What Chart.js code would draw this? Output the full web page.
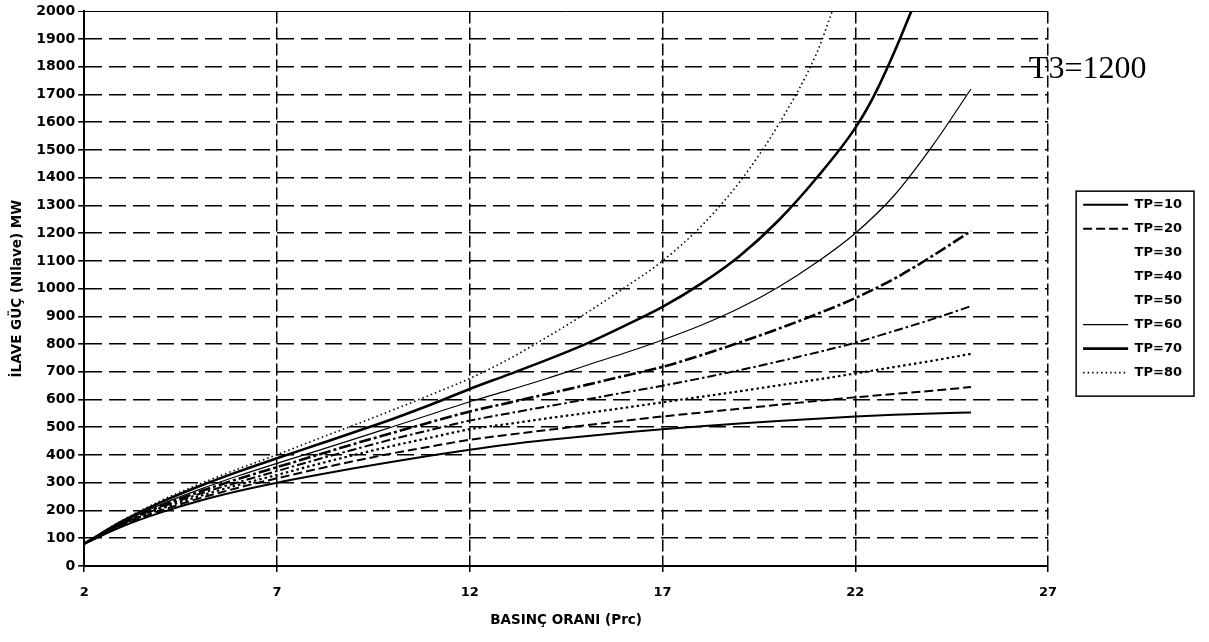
<!DOCTYPE html>
<html>
<head>
<meta charset="utf-8">
<title>İlave güç - basınç oranı</title>
<script src="https://cdn.jsdelivr.net/npm/chart.js@4.4.1/dist/chart.umd.min.js"></script>
<style>
  html, body { margin: 0; padding: 0; background: #fff; }
  #wrap { width: 1209px; height: 642px; }
</style>
</head>
<body>
<div id="wrap"><canvas id="chartIlaveGuc"></canvas></div>
<script>
// basınç oranı (Prc) values the curves are sampled at
var prc = [2, 3, 4, 5, 6, 7, 8, 9, 10, 11, 12, 13, 14, 15, 16, 17, 18, 19, 20, 21, 22, 23, 24, 25];
// TP=70 and TP=80 leave the top of the axis before Prc=25
var prc70 = [2, 3, 4, 5, 6, 7, 8, 9, 10, 11, 12, 13, 14, 15, 16, 17, 18, 19, 20, 21, 22, 22.5, 23, 23.45];
var prc80 = [2, 3, 4, 5, 6, 7, 8, 9, 10, 11, 12, 13, 14, 15, 16, 17, 18, 19, 20, 21, 21.4];

// ilave güç (MW)
var tp10 = [80, 143, 193, 235, 270, 300, 327, 352, 376, 398, 419, 438, 454, 468, 481, 493, 504, 514, 523, 531, 539, 545, 550, 553];
var tp20 = [80, 147, 200, 244, 282, 316, 348, 378, 406, 431, 455, 473, 490, 507, 523, 539, 553, 567, 581, 595, 608, 620, 632, 645];
var tp30 = [80, 150, 206, 252, 292, 328, 365, 400, 433, 463, 493, 512, 532, 551, 570, 590, 610, 630, 651, 672, 694, 717, 740, 765];
var tp40 = [80, 152, 211, 260, 302, 342, 382, 420, 457, 491, 524, 550, 575, 600, 625, 650, 677, 706, 737, 770, 805, 847, 890, 937];
var tp50 = [80, 155, 216, 268, 314, 356, 398, 440, 480, 519, 557, 588, 620, 652, 685, 718, 760, 806, 855, 908, 966, 1035, 1118, 1208];
var tp60 = [80, 158, 222, 276, 325, 370, 413, 457, 502, 547, 592, 633, 676, 722, 767, 815, 868, 930, 1005, 1095, 1200, 1335, 1515, 1720];
var tp70 = [80, 162, 230, 288, 340, 388, 435, 482, 530, 582, 638, 690, 743, 800, 865, 934, 1018, 1118, 1245, 1400, 1580, 1700, 1850, 2000];
var tp80 = [80, 165, 236, 296, 350, 401, 455, 508, 562, 618, 676, 745, 825, 910, 1002, 1100, 1225, 1385, 1590, 1850, 2000];

var xTicksMin = 2;
var xTicksMax = 27;
var xTicksStep = 5;
var yTicksMax = 2000;
var yTicksStep = 100;

function points(xs, ys) {
    return ys.map(function (y, i) { return { x: xs[i], y: y }; });
}

function curve(label, xs, ys, width, dash, showKey) {
    return {
        label: label,
        data: points(xs, ys),
        borderColor: '#000',
        backgroundColor: '#000',
        borderWidth: width,
        borderDash: dash,
        showKey: showKey,
        pointRadius: 0,
        fill: false,
        cubicInterpolationMode: 'monotone'
    };
}

// TP=30..50 keys are printed without a sample line
var datasets = [
    curve('TP=10', prc, tp10, 2, [], true),
    curve('TP=20', prc, tp20, 2, [9, 4], true),
    curve('TP=30', prc, tp30, 2.2, [2.5, 3], false),
    curve('TP=40', prc, tp40, 2, [9, 3, 2.5, 3], false),
    curve('TP=50', prc, tp50, 2.6, [12, 3, 3, 3], false),
    curve('TP=60', prc, tp60, 1.2, [], true),
    curve('TP=70', prc70, tp70, 2.6, [], true),
    curve('TP=80', prc80, tp80, 1.6, [1.5, 3], true)
];

var t3Label = {
    id: 't3Label',
    afterDatasetsDraw: function (chart) {
        var ctx = chart.ctx;
        var x = chart.scales.x.getPixelForValue(26.5);
        var y = chart.scales.y.getPixelForValue(1790);
        ctx.save();
        ctx.font = '32px "Liberation Serif"';
        ctx.fillStyle = '#000';
        ctx.textBaseline = 'middle';
        ctx.textAlign = 'left';
        ctx.fillText('T3=1200', x, y);
        ctx.restore();
    }
};

var legendFrame = {
    id: 'legendFrame',
    afterDraw: function (chart) {
        var lg = chart.legend;
        var boxes = lg.legendHitBoxes;
        if (!boxes || !boxes.length) return;
        var last = boxes[boxes.length - 1];
        var top = boxes[0].top - 7;
        var bottom = last.top + last.height + 17;
        var ctx = chart.ctx;
        ctx.save();
        ctx.strokeStyle = '#000';
        ctx.lineWidth = 1.5;
        ctx.strokeRect(lg.left + 4, top, lg.right - lg.left - 2, bottom - top);
        ctx.restore();
    }
};

var tickFont = { family: 'DejaVu Sans', weight: 'bold', size: 13 };
var titleFont = { family: 'DejaVu Sans', weight: 'bold', size: 13.5 };

var chartIlaveGuc = new Chart(document.getElementById('chartIlaveGuc'), {
    type: 'line',
    data: { datasets: datasets },
    options: {
        responsive: true,
        maintainAspectRatio: false,
        animation: false,
        layout: { padding: { top: 2, right: 17, bottom: 9, left: 8 } },
        scales: {
            x: {
                type: 'linear',
                min: xTicksMin,
                max: xTicksMax,
                ticks: { stepSize: xTicksStep, color: '#000', font: tickFont, padding: 13, maxRotation: 0 },
                grid: { color: '#000', lineWidth: 1.5, tickLength: 6 },
                border: { display: true, color: '#000', width: 2, dash: [12, 4] },
                title: {
                    display: true,
                    text: 'BASINÇ ORANI (Prc)',
                    color: '#000',
                    font: { family: 'DejaVu Sans', weight: 'bold', size: 13.5, lineHeight: 1 },
                    padding: { top: 0, bottom: 6 }
                }
            },
            y: {
                min: 0,
                max: yTicksMax,
                ticks: {
                    stepSize: yTicksStep,
                    color: '#000',
                    font: { family: 'DejaVu Sans', weight: 'bold', size: 14 },
                    padding: 3,
                    callback: function (v) { return String(v); }
                },
                grid: {
                    color: '#000',
                    tickLength: 6,
                    lineWidth: function (c) { return c.tick && c.tick.value === yTicksMax ? 1 : 1.6; }
                },
                border: {
                    display: true,
                    color: '#000',
                    width: 2,
                    dash: function (c) { return c.tick && c.tick.value === yTicksMax ? [] : [17, 7]; }
                },
                title: {
                    display: true,
                    text: 'İLAVE GÜÇ (NIlave) MW',
                    color: '#000',
                    font: titleFont,
                    padding: { top: 1, bottom: 8 }
                }
            },
            // empty strip between the plot and the key
            gap: {
                type: 'linear',
                position: 'right',
                display: true,
                grid: { display: false, drawTicks: false },
                border: { display: false },
                ticks: { display: false },
                afterFit: function (scale) { scale.width = 24; }
            }
        },
        plugins: {
            legend: {
                position: 'right',
                fullSize: false,
                labels: {
                    usePointStyle: true,
                    pointStyleWidth: 45,
                    padding: 11,
                    color: '#000',
                    font: { family: 'DejaVu Sans', weight: 'bold', size: 13 },
                    generateLabels: function (chart) {
                        return chart.data.datasets.map(function (ds, i) {
                            return {
                                text: ds.label,
                                datasetIndex: i,
                                pointStyle: 'line',
                                fillStyle: '#000',
                                strokeStyle: ds.showKey ? ds.borderColor : 'rgba(0,0,0,0)',
                                lineWidth: ds.showKey ? ds.borderWidth : 0,
                                lineDash: ds.borderDash,
                                fontColor: '#000',
                                hidden: false
                            };
                        });
                    }
                }
            },
            tooltip: { enabled: false }
        }
    },
    plugins: [t3Label, legendFrame]
});
</script>
</body>
</html>
